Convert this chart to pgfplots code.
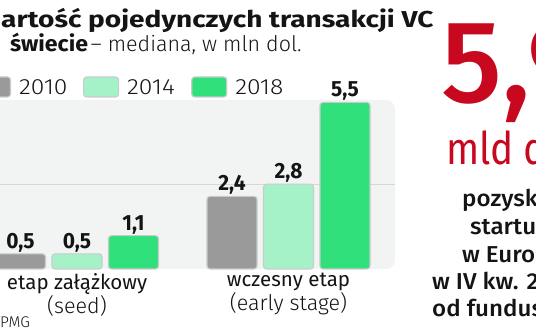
\documentclass[border=0pt]{standalone}
\usepackage{fontspec}
\usepackage{graphicx}
\usepackage{pgfplots}
\pgfplotsset{compat=1.18}
\setmainfont{Fira Sans}
\newfontfamily\condfont[FakeStretch=0.95]{Fira Sans}
\newfontfamily\narrowfont[FakeStretch=0.86]{Fira Sans}
\newfontfamily\lightfont{Fira Sans Light}
\newfontfamily\medfont{Fira Sans Medium}
\definecolor{c2010}{HTML}{9A9A9A}
\definecolor{c2014}{HTML}{A6F2C8}
\definecolor{c2018}{HTML}{2FE07B}
\definecolor{barline}{HTML}{C9CCCB}
\definecolor{panel}{HTML}{F2F4F4}
\definecolor{gridc}{HTML}{D6D8D8}
\definecolor{redc}{HTML}{C8081F}
\definecolor{ink}{HTML}{141414}
\newcommand\titlef{\bfseries\fontsize{22}{24}\selectfont}
\newcommand\valf{\condfont\bfseries\fontsize{22}{22}\selectfont}
\newcommand\legf{\lightfont\fontsize{22}{22}\selectfont}
\newcommand\leg[1]{\hbox to 72pt{\hskip 8pt\scalebox{1.12}[1]{\legf #1}\hfil}}
\begin{document}
\begin{tikzpicture}[x=1pt,y=1pt]
\begin{scope}
\clip (0,0) rectangle (536,332);
\fill[white] (0,0) rectangle (536,332);
% title
\node[anchor=base west, inner sep=0, text=ink] at (1,304) {\scalebox{1.22}[1]{\bfseries\fontsize{23}{24}\selectfont artość pojedynczych transakcji VC}};
\node[anchor=base west, inner sep=0, text=ink] at (10,280) {\scalebox{1.05}[1]{\titlef świecie} {\lightfont\fontsize{21.5}{24}\selectfont – mediana, w mln dol.}};
\begin{axis}[
  at={(-20pt,63pt)}, anchor=south west,
  scale only axis, width=415pt, height=169pt,
  xmin=-20, xmax=395, ymin=0, ymax=5.58,
  ybar, bar width=50pt,
  axis line style={draw=none},
  axis background/.style={fill=panel, rounded corners=9pt},
  ytick=\empty,
  extra y ticks={2.8}, extra y tick labels={},
  extra y tick style={ymajorgrids=true, major tick length=0pt},
  major grid style={draw=gridc, line width=0.8pt},
  xtick={77,288.5},
  xticklabels={{etap załążkowy\\{\lightfont\fontsize{21.5}{22}\selectfont (seed)}},{wczesny etap\\{\lightfont\fontsize{21.5}{22}\selectfont (early stage)}}},
  xtick style={draw=none},
  major tick length=0pt,
  xticklabel style={align=center, inner sep=0pt, anchor=north, yshift=-4pt, text=ink, font=\fontsize{20.5}{22}\selectfont},
  clip=false,
  nodes near coords,
  every node near coord/.append style={anchor=south, inner sep=0pt, text depth=0pt, yshift=5pt, font=\valf, text=ink},
  legend columns=3,
  legend style={draw=none, fill=none, inner sep=0pt, outer sep=0pt, at={(-0.01205,1.0769)}, anchor=west,
    nodes={inner sep=0pt, text depth=0pt}, text=ink},
  legend image code/.code={\draw[#1, rounded corners=3pt] (0pt,-10pt) rectangle (35pt,10pt);},
  every axis plot/.append style={draw=barline, line width=1.1pt, rounded corners=3pt},
  /pgf/number format/use comma,
  /pgf/number format/fixed,
  /pgf/number format/fixed zerofill,
  /pgf/number format/precision=1,
  /pgf/number format/assume math mode=true,
]
\addplot[fill=c2010, bar shift=-56.5pt] coordinates {(77,0.5) (288.5,2.4)};
\addplot[fill=c2014, bar shift=0pt] coordinates {(77,0.5) (288.5,2.8)};
\addplot[fill=c2018, bar shift=56.5pt] coordinates {(77,1.1) (288.5,5.5)};
\legend{\leg{2010},\leg{2014},\leg{2018}}
\end{axis}
% source
\node[anchor=base west, inner sep=0, text=ink, font=\lightfont\fontsize{15.5}{15.5}\selectfont] at (0,4) {PMG};
% right block
\node[anchor=base west, inner sep=0, text=redc, font=\medfont\fontsize{117}{117}\selectfont] at (441,229) {5,9};
\node[anchor=base west, inner sep=0, text=redc, font=\narrowfont\fontsize{45}{45}\selectfont] at (446,167) {mld dol.};
\begin{scope}[every node/.style={anchor=base west, inner sep=0, text=ink, font=\medfont\fontsize{23}{23}\selectfont}]
\node at (462,125) {\scalebox{1.05}[1]{pozyskały}};
\node at (470,97) {\scalebox{1.05}[1]{startupy}};
\node at (462,69) {\scalebox{1.05}[1]{w Europie}};
\node at (432,42) {\scalebox{1.05}[1]{w IV kw. 2018 r.}};
\node at (432,15) {\scalebox{1.05}[1]{od funduszy VC}};
\end{scope}
\end{scope}
\pgfresetboundingbox
\useasboundingbox (0,0) rectangle (536,332);
\end{tikzpicture}
\end{document}
